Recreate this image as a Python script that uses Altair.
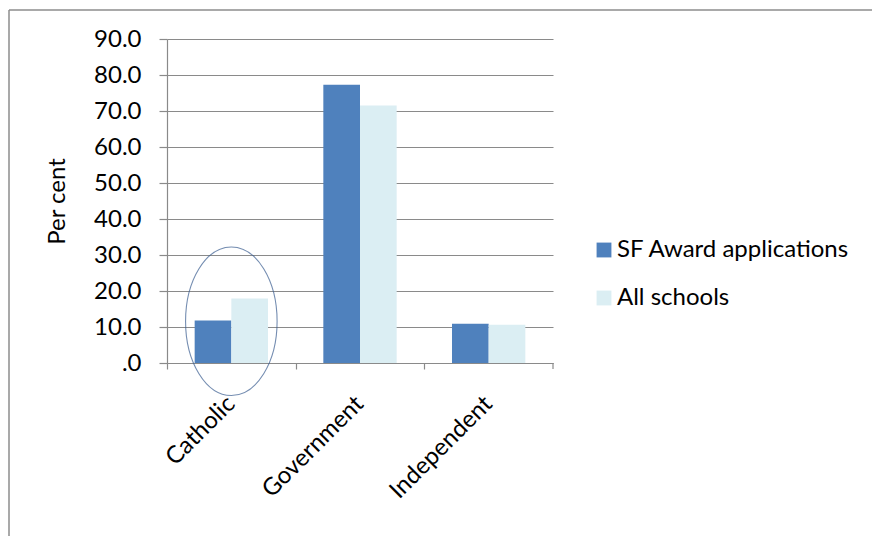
import altair as alt
import pandas as pd

categories = ["Catholic", "Government", "Independent"]
series_names = ["SF Award applications", "All schools"]
sf_award = [11.8, 77.3, 10.9]
all_schools = [17.9, 71.5, 10.6]
y_ticks = [0, 10, 20, 30, 40, 50, 60, 70, 80, 90]
highlight_category = ["Catholic"]
highlight_value = [11.6]

rows = []
for c, a, b in zip(categories, sf_award, all_schools):
    rows.append({"category": c, "series": series_names[0], "value": a})
    rows.append({"category": c, "series": series_names[1], "value": b})
df = pd.DataFrame(rows)

FONT = "Lato"
FS = 24
W, H = 386, 324
GRID = "#8a8a8a"

xscale = alt.Scale(domain=categories, paddingInner=0.43, paddingOuter=0.215)
yscale = alt.Scale(domain=[0, 90], nice=False)

xaxis = alt.Axis(labelAngle=-45, labelFontSize=FS, labelFont=FONT,
                 labelColor="#000", labelAlign="right", labelBaseline="middle",
                 labelPadding=31, bandPosition=-0.372, tickSize=6,
                 tickColor=GRID, domainColor=GRID, tickWidth=1.2,
                 domainWidth=1.2, grid=False, labelOverlap=False,
                 labelLimit=0)
yaxis = alt.Axis(values=y_ticks, labelFontSize=FS, labelFont=FONT,
                 labelColor="#000", labelOverlap=False,
                 labelExpr="datum.value == 0 ? '.0' : format(datum.value, '.1f')",
                 labelPadding=18, tickSize=8, tickColor=GRID, tickWidth=1.2,
                 domainColor=GRID, domainWidth=1.2, gridColor=GRID,
                 gridWidth=1.2, titleFont=FONT, titleFontSize=FS,
                 titleFontWeight="normal", titleColor="#000",
                 titlePadding=24)

bars = alt.Chart(df).mark_bar().encode(
    x=alt.X("category:N", scale=xscale, sort=categories, title=None, axis=xaxis),
    xOffset=alt.XOffset("series:N", sort=series_names),
    y=alt.Y("value:Q", scale=yscale, title="Per cent", axis=yaxis),
    color=alt.Color("series:N", sort=series_names,
                    scale=alt.Scale(domain=series_names, range=["#4F81BD", "#DBEEF3"]),
                    legend=alt.Legend(title=None, orient="none", legendX=425, legendY=199,
                                      symbolType="square", symbolSize=220,
                                      symbolStrokeWidth=0, labelFont=FONT,
                                      labelFontSize=FS, labelColor="#000",
                                      rowPadding=24, labelOffset=1, labelLimit=0)),
)

ell = pd.DataFrame({"category": highlight_category, "value": highlight_value})
ellipse = alt.Chart(ell).mark_point(
    shape="M -0.616 0 A 0.616 1 0 1 0 0.616 0 A 0.616 1 0 1 0 -0.616 0 Z",
    size=22080, filled=False, stroke="#3B5E91", strokeWidth=1.1, clip=False,
).encode(
    x=alt.X("category:N", scale=xscale, sort=categories, title=None, axis=xaxis),
    y=alt.Y("value:Q", scale=yscale, title="Per cent", axis=yaxis),
)

end_tick = alt.Chart(ell).mark_rule(color=GRID, strokeWidth=1.2).encode(
    x=alt.value(W), y=alt.value(H), y2=alt.value(H + 6))

border_top = alt.Chart(ell).mark_rule(color="#8c8c8c", strokeWidth=1.5).encode(
    x=alt.value(-158), x2=alt.value(720), y=alt.value(-29))
border_left = alt.Chart(ell).mark_rule(color="#8c8c8c", strokeWidth=1.5).encode(
    x=alt.value(-158), y=alt.value(-29), y2=alt.value(520))

chart = alt.layer(bars, ellipse, end_tick, border_top, border_left).properties(
    width=W, height=H,
    autosize=alt.AutoSizeParams(type="none"),
    padding={"left": 167, "top": 39, "right": 319, "bottom": 173},
).configure_view(stroke=None)

chart.save("out.html", embed_options={"renderer": "svg", "actions": False})
